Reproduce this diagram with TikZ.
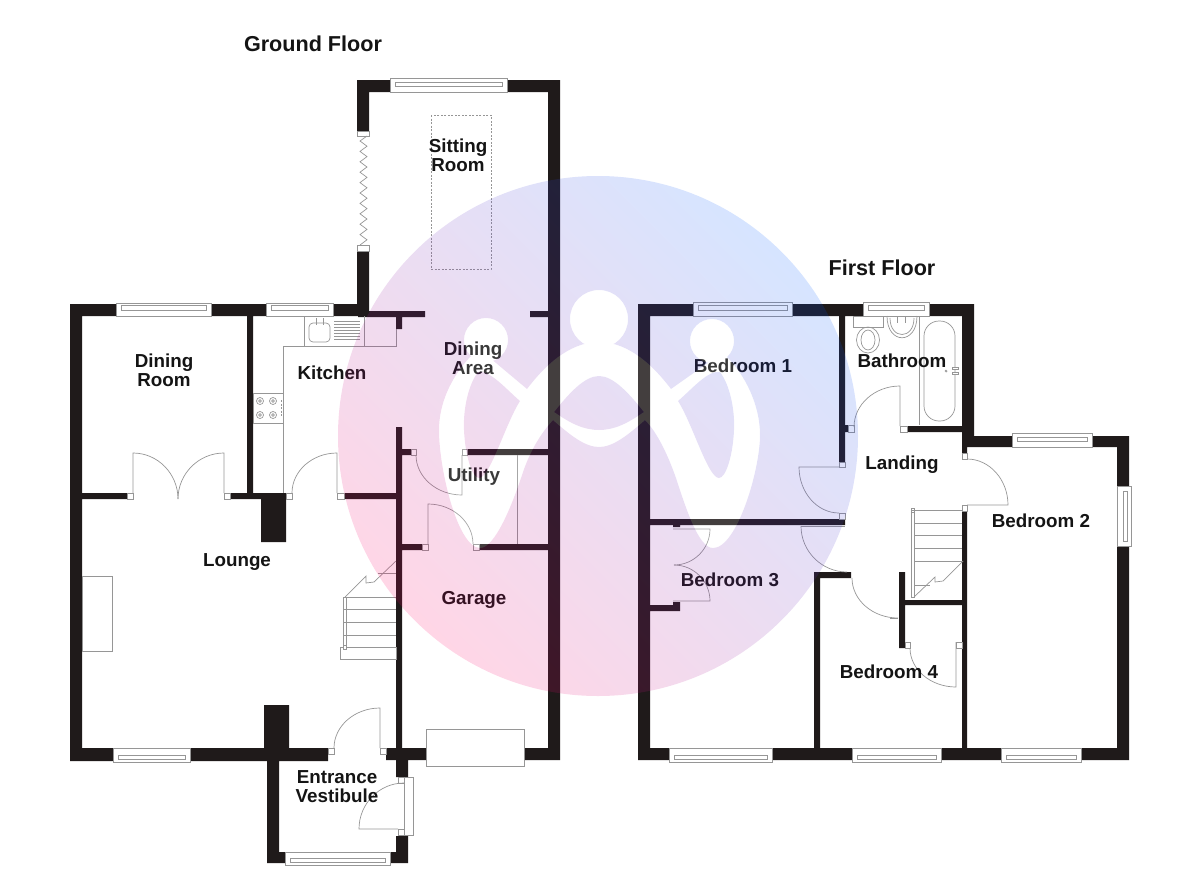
\documentclass[tikz,border=0pt]{standalone}
\usepackage{fontspec}
\setmainfont{Liberation Sans}
\usetikzlibrary{calc}

\definecolor{wallcol}{RGB}{31,26,26}
\definecolor{framecol}{RGB}{150,150,150}
\definecolor{wmpink}{RGB}{255,0,100}
\definecolor{wmblue}{RGB}{0,90,255}

% door: hinge, end of leaf, corner, end of swing
\newcommand{\door}[4]{\draw[frame] (#1) -- (#2) .. controls ($(#2)!.55!(#3)$) and ($(#4)!.55!(#3)$) .. (#4);}
% swing only
\newcommand{\swing}[3]{\draw[frame] (#1) .. controls ($(#1)!.55!(#2)$) and ($(#3)!.55!(#2)$) .. (#3);}
% small white block at a door frame
\newcommand{\block}[4]{\draw[frame,fill=white] (#1,#2) rectangle (#3,#4);}

% the white figure in the round mark
\def\figline{(527,389) -- (490,358) -- (471,356)
	.. controls (450,378) and (439,405) .. (439,430)
	.. controls (439,470) and (458,548) .. (480,548)
	.. controls (495,548) and (512,505) .. (522,475)
	.. controls (530,450) and (542,432) .. (553,420)
	.. controls (570,435) and (585,447) .. (599,447)
	.. controls (613,447) and (628,435) .. (645,420)
	.. controls (657,432) and (668,455) .. (676,478)
	.. controls (685,505) and (698,548) .. (713,548)
	.. controls (737,548) and (760,470) .. (760,435)
	.. controls (760,405) and (745,375) .. (727,357)
	-- (712,360) -- (671,389)
	.. controls (655,368) and (630,342) .. (599,342)
	.. controls (568,342) and (543,368) .. (527,389) -- cycle
	(554,412) .. controls (570,392) and (585,376) .. (599,376) .. controls (613,376) and (628,392) .. (644,412) .. controls (628,423) and (615,430) .. (599,430) .. controls (583,430) and (570,423) .. (554,412) -- cycle
	(520,401) .. controls (505,388) and (490,370) .. (478,372) .. controls (468,385) and (463,410) .. (464,430) .. controls (465,455) and (472,478) .. (479,478) .. controls (490,478) and (505,425) .. (520,401) -- cycle
	(678,401) .. controls (693,388) and (708,370) .. (720,372) .. controls (730,385) and (735,410) .. (734,430) .. controls (733,455) and (726,478) .. (719,478) .. controls (708,478) and (693,425) .. (678,401) -- cycle}

\begin{document}
\begin{tikzpicture}[x=1pt,y=-1pt,
	wall/.style={fill=wallcol},
	frame/.style={draw=framecol,line width=.7pt},
	dashline/.style={draw=framecol,line width=.7pt,dash pattern=on 2pt off 1.5pt},
	room/.style={font=\fontsize{18.8}{19}\selectfont\bfseries,align=center,text=black!92},
	title/.style={font=\fontsize{21.6}{22}\selectfont\bfseries,text=black!92},
	clip even odd rule/.code={\pgfseteorule}]
	\useasboundingbox (0,0) rectangle (1200,873);
	
	% ground floor walls
	\fill[wall] (70,304) rectangle (82,761)
	(70,304) rectangle (358,316)
	(70,748) rectangle (267,761)
	(247,316) rectangle (253,493)
	(82,493) rectangle (127,499)
	(230,493) rectangle (286,499)
	(261,493) rectangle (286,542)
	(344,493) rectangle (396,499)
	(264,705) rectangle (289,748)
	(267,748) rectangle (328,761)
	(386,748) rectangle (559,760)
	(267,748) rectangle (279,863)
	(267,852) rectangle (408,863)
	(396,760) rectangle (408,777)
	(396,836) rectangle (408,863)
	(396,427) rectangle (402,760)
	(402,449) rectangle (411,455)
	(467,449) rectangle (548,455)
	(402,544) rectangle (422,550)
	(479,544) rectangle (548,550)
	(548,80) rectangle (560,760)
	(357,80) rectangle (548,92)
	(357,80) rectangle (369,131)
	(357,251) rectangle (369,316)
	(358,311) rectangle (425,317)
	(396,316) rectangle (402,329)
	(530,311) rectangle (548,317);
	
	% first floor walls
	\fill[wall] (638,304) rectangle (650,760)
	(638,304) rectangle (974,316)
	(962,304) rectangle (974,436)
	(962,436) rectangle (1129,447)
	(962,447) rectangle (967,453)
	(1117,436) rectangle (1129,486)
	(1117,546) rectangle (1129,760)
	(638,748) rectangle (1129,760)
	(962,511) rectangle (967,748)
	(839,316) rectangle (845,462)
	(845,425) rectangle (848,432)
	(907,426) rectangle (962,432)
	(650,519) rectangle (845,525)
	(650,605) rectangle (680,611)
	(673,602) rectangle (680,605)
	(673,525) rectangle (680,527)
	(814,572) rectangle (820,748)
	(814,572) rectangle (851,578)
	(899,572) rectangle (905,648)
	(905,600) rectangle (962,605);
	
	% windows
	\foreach \xa/\ya/\xb/\yb/\ia/\ib in {116/303/211/316/305.5/310,266/303/333/316/305.5/310,390/78/507/92/82/86,
		693/302/792/316/305.5/310,863/302/929/316/305.5/310,1012/433/1092/447/437/441,
		113/748/190/762/755/759,285/852/390/865/858/862,669/748/772/762/755/759,852/748/941/762/755/759,1001/748/1081/762/755/759}{
		\draw[frame,fill=white] (\xa,\ya) rectangle (\xb,\yb);
		\draw[frame] ({\xa+5},\ia) rectangle ({\xb-5},\ib);
	}
	\draw[frame,fill=white] (1117,486) rectangle (1131,546);
	\draw[frame] (1123,491) rectangle (1127,541);
	\draw[frame,fill=white] (404,777) rectangle (413,835);
	
	% garage door and lounge bay
	\draw[frame,fill=white] (426,729) rectangle (524,766);
	\draw[frame,fill=white] (82,576) rectangle (112,651);
	
	% folding doors of the sitting room
	\draw[frame,fill=white] (357,131) rectangle (369,136);
	\draw[frame,fill=white] (357,245) rectangle (369,251);
	\draw[frame] (367,136)
	\foreach \i in {0,...,9}{ -- (360,{141+\i*10.4}) -- (367,{146.2+\i*10.4}) } -- (360,245);
	
	% roof light
	\draw[dashline] (431,115) rectangle (491,269);
	
	% kitchen units
	\draw[frame] (283,493) -- (283,346) -- (396,346) -- (396,329);
	\draw[frame] (304,316) -- (304,346) (364,316) -- (364,346);
	\draw[frame] (253,393) rectangle (283,423);
	\foreach \hx/\hy in {260/401,273/401,260/415,273/415}{
		\draw[frame] (\hx,\hy) circle (3.5);
		\draw[frame] (\hx,\hy) circle (1.4);
	}
	\draw[dashline] (281,400) -- (281,417);
	\draw[frame,rounded corners=4pt] (309,323) rectangle (330,342);
	\draw[frame,line width=1pt] (316,318) -- (316,325) (323,318) -- (323,325);
	\foreach \dy in {321,324,...,340}{
		\draw[frame] (334,\dy) -- (360,\dy);
	}
	
	% ground floor doors
	\block{127}{493}{133}{499}
	\block{224}{493}{230}{499}
	\block{286}{493}{292}{499}
	\block{337}{493}{344}{499}
	\door{133,493}{133,453}{178,453}{178,499}
	\door{224,493}{224,453}{178,453}{178,499}
	\door{337,493}{337,453}{292,453}{292,493}
	\block{411}{449}{416}{455}
	\block{462}{449}{467}{455}
	\door{462,455}{462,495}{416,495}{416,455}
	\block{422}{544}{428}{550}
	\block{473}{544}{479}{550}
	\door{428,544}{428,504}{473,504}{473,544}
	\block{328}{748}{334}{754}
	\block{380}{748}{386}{754}
	\door{380,748}{380,708}{334,708}{334,748}
	\block{398}{777}{404}{783}
	\block{398}{829}{404}{835}
	\door{398,829}{359,829}{359,783}{404,783}
	\draw[frame] (517,455) -- (517,544);
	
	% ground floor stairs
	\draw[frame] (343,597) -- (343,647) (346,597) -- (346,647);
	\foreach \sy in {597,609,622,635,647}{
		\draw[frame] (343,\sy) -- (396,\sy);
	}
	\draw[frame] (340,647) rectangle (396,659);
	\block{343}{645}{346}{649}
	\draw[frame] (345,597) -- (366,576) -- (366,583) -- (374,582) -- (396,561);
	\draw[frame] (378,573) -- (396,573);
	
	% bathroom fittings
	\draw[frame] (919,316) -- (919,425);
	\draw[frame,rounded corners=15pt] (924,321) rectangle (955,421);
	\draw[frame] (946,371) circle (1);
	\draw[frame,fill=white] (952,367) rectangle (958,369);
	\draw[frame,fill=white] (952,372) rectangle (958,374);
	\draw[frame] (887,316) .. controls (887,345) and (917,345) .. (917,316);
	\draw[frame] (890,318) .. controls (890,340) and (914,340) .. (914,318);
	\draw[frame,line width=1pt] (897,317) -- (897,323) (905,317) -- (905,323);
	\draw[frame] (853,316) rectangle (883,327);
	\draw[frame] (868,340) ellipse (11.5 and 13);
	\draw[frame] (868,340) ellipse (7 and 10);
	
	% first floor doors
	\block{848}{425}{854}{432}
	\block{900}{426}{907}{432}
	\door{900,426}{900,386}{854,386}{854,427}
	\block{839}{462}{845}{467}
	\block{839}{513}{845}{519}
	\door{839,467}{799,467}{799,513}{839,513}
	\block{962}{453}{967}{459}
	\block{962}{505}{967}{511}
	\door{967,505}{1008,505}{1008,459}{967,459}
	\draw[frame] (801,526) -- (845,526);
	\swing{801,526}{801,572}{847,572}
	\swing{852,578}{852,618}{898,618}
	\draw[frame] (890,618) -- (898,618);
	\block{905}{642}{910}{648}
	\block{956}{642}{962}{648}
	\door{956,642}{956,687}{910,687}{910,648}
	\door{673,529}{710,529}{710,565}{674,565}
	\door{673,601}{710,601}{710,565}{674,565}
	
	% first floor stairs
	\draw[frame] (911,510) -- (911,597) -- (914,597) -- (914,510) -- cycle;
	\block{911}{508}{914}{512}
	\draw[frame] (911,510) -- (962,510);
	\foreach \sy in {523,535,548,561}{
		\draw[frame] (914,\sy) -- (962,\sy);
	}
	\draw[frame] (914,597) -- (935,577) -- (935,582) -- (943,581) -- (963,561);
	\draw[frame] (914,585) -- (930,585);
	
	% labels
	\node[title] (groundfl) at (313,44) {Ground Floor};
	\node[title] (firstfl) at (882,268) {First Floor};
	\node[room] (sitting) at (458,155) {Sitting\\Room};
	\node[room] (dining) at (164,370) {Dining\\Room};
	\node[room] (kitchen) at (332,373) {Kitchen};
	\node[room] (diningar) at (473,358) {Dining\\Area};
	\node[room] (utility) at (474,477) {Utility};
	\node[room] (lounge) at (237,562) {Lounge};
	\node[room] (garage) at (474,600) {Garage};
	\node[room] (vestibule) at (337,787) {Entrance\\Vestibule};
	\node[room] (bedone) at (743,366) {Bedroom 1};
	\node[room] (bathroom) at (902,361) {Bathroom};
	\node[room] (landing) at (902,465) {Landing};
	\node[room] (bedtwo) at (1041,521) {Bedroom 2};
	\node[room] (bedthree) at (730,580) {Bedroom 3};
	\node[room] (bedfour) at (889,672) {Bedroom 4};
	
	% round mark over the plan
	\begin{scope}
		\clip[clip even odd rule] (0,0) rectangle (1200,873) (599,319) circle (29);
		\clip[clip even odd rule] (0,0) rectangle (1200,873) (486,340) circle (22);
		\clip[clip even odd rule] (0,0) rectangle (1200,873) (712,341) circle (22);
		\clip[clip even odd rule] (0,0) rectangle (1200,873) \figline;
		\shade[fill opacity=.16,bottom color=wmpink,top color=wmblue,shading angle=-45] (598,436) circle (260);
	\end{scope}
	\fill[white,fill opacity=.16,even odd rule] \figline;
	\fill[white,fill opacity=.16] (599,319) circle (29) (486,340) circle (22) (712,341) circle (22);
\end{tikzpicture}
\end{document}
